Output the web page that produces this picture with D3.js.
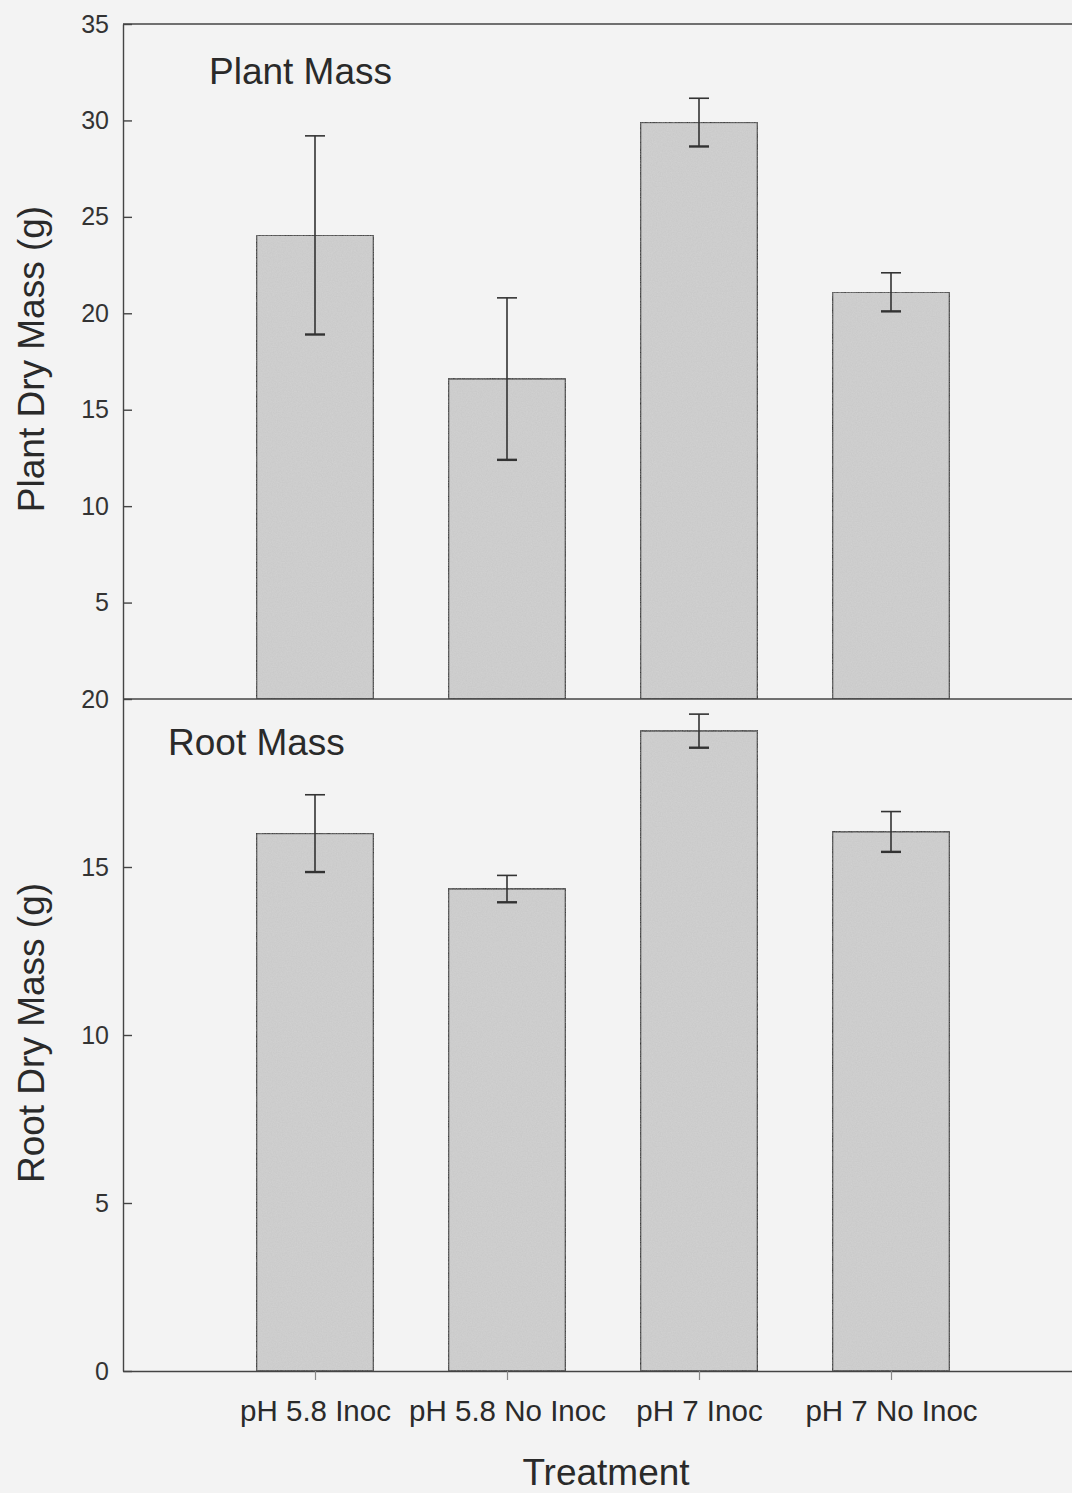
<!DOCTYPE html>
<html>
<head>
<meta charset="utf-8">
<script src="https://cdn.jsdelivr.net/npm/d3@7"></script>
<style>
  html, body { margin: 0; padding: 0; background: #f3f3f3; }
  svg { display: block; font-family: "Liberation Sans", Arial, sans-serif; }
</style>
</head>
<body>
<div id="viz"></div>
<script>
// Datos
const tratamientos = ["pH 5.8 Inoc", "pH 5.8 No Inoc", "pH 7 Inoc", "pH 7 No Inoc"];
const masaPlanta = [24.05, 16.6, 29.9, 21.1];
const errorPlanta = [5.15, 4.2, 1.25, 1.0];
const masaRaiz = [16.0, 14.35, 19.05, 16.05];
const errorRaiz = [1.15, 0.4, 0.5, 0.6];
const ticksPlanta = [5, 10, 15, 20, 25, 30, 35];
const ticksRaiz = [0, 5, 10, 15, 20];

const width = 1072, height = 1493;
const svg = d3.select('#viz').append('svg')
    .attr('width', width)
    .attr('height', height);

// textura de papel escaneado
const defs = svg.append('defs');
const ruido = defs.append('filter').attr('id', 'ruido')
    .attr('x', 0).attr('y', 0).attr('width', 1).attr('height', 1);
ruido.append('feTurbulence').attr('type', 'fractalNoise')
    .attr('baseFrequency', 0.8).attr('numOctaves', 2).attr('seed', 3).attr('result', 'n');
ruido.append('feColorMatrix').attr('in', 'n').attr('type', 'matrix')
    .attr('values', '0 0 0 0 0.5  0 0 0 0 0.5  0 0 0 0 0.5  0 0 0 0.5 -0.1').attr('result', 'g');
ruido.append('feComposite').attr('in', 'g').attr('in2', 'SourceGraphic').attr('operator', 'in').attr('result', 'gi');
ruido.append('feMerge').selectAll('feMergeNode')
    .data(['SourceGraphic', 'gi']).enter().append('feMergeNode').attr('in', d => d);

svg.append('rect').attr('width', width).attr('height', height).attr('fill', '#f3f3f3');

const izq = 123, arriba = 24, medio = 699, abajo = 1371;

const x = d3.scaleLinear().domain([0, tratamientos.length + 1]).range([izq, izq + 192 * 5]);
const anchoBarra = 117;

const yPlanta = d3.scaleLinear().domain([0, 35]).range([medio, arriba]);
const yRaiz = d3.scaleLinear().domain([0, 20]).range([abajo, medio]);

const fuente = '"Liberation Sans", Arial, sans-serif';

function panel(datos, errores, y, ticks, titulo, tituloX, tituloY, ejeY, centroY) {
    const g = svg.append('g');

    // barras
    g.selectAll('.bar')
        .data(datos)
        .enter().append('rect')
        .attr('class', 'bar')
        .attr('x', (d, i) => x(i + 1) - anchoBarra / 2)
        .attr('y', d => y(d))
        .attr('width', anchoBarra)
        .attr('height', d => y(0) - y(d))
        .attr('fill', '#d0d0d0')
        .attr('stroke', '#3a3a3a')
        .attr('stroke-width', 1.6)
        .attr('filter', 'url(#ruido)');

    // barras de error
    const eb = g.selectAll('.err')
        .data(datos.map((d, i) => ({ m: d, e: errores[i], i })))
        .enter().append('g')
        .attr('stroke', '#333')
        .attr('stroke-width', 1.6);
    eb.append('line')
        .attr('x1', d => x(d.i + 1)).attr('x2', d => x(d.i + 1))
        .attr('y1', d => y(d.m + d.e)).attr('y2', d => y(d.m - d.e));
    eb.append('line')
        .attr('x1', d => x(d.i + 1) - 10).attr('x2', d => x(d.i + 1) + 10)
        .attr('y1', d => y(d.m + d.e)).attr('y2', d => y(d.m + d.e));
    eb.append('line')
        .attr('x1', d => x(d.i + 1) - 10).attr('x2', d => x(d.i + 1) + 10)
        .attr('y1', d => y(d.m - d.e)).attr('y2', d => y(d.m - d.e))
        .attr('stroke-width', 2.4);

    // eje y con ticks hacia dentro
    const eje = g.append('g')
        .attr('transform', `translate(${izq},0)`)
        .call(d3.axisLeft(y).tickValues(ticks).tickSizeInner(-9).tickSizeOuter(0).tickPadding(14));
    eje.select('.domain').attr('stroke', '#444').attr('stroke-width', 1.4);
    eje.selectAll('.tick line').attr('stroke', '#444').attr('stroke-width', 1.4);
    eje.selectAll('.tick text')
        .attr('font-size', 25)
        .attr('fill', '#333')
        .style('font-family', fuente);

    // etiqueta del panel
    g.append('text')
        .attr('x', tituloX).attr('y', tituloY)
        .attr('font-size', 37)
        .attr('fill', '#2a2a2a')
        .style('font-family', fuente)
        .text(titulo);

    // título eje y
    g.append('text')
        .attr('transform', `translate(44,${centroY}) rotate(-90)`)
        .attr('text-anchor', 'middle')
        .attr('font-size', 37)
        .attr('fill', '#2a2a2a')
        .style('font-family', fuente)
        .text(ejeY);
}

panel(masaPlanta, errorPlanta, yPlanta, ticksPlanta, 'Plant Mass', 209, 84, 'Plant Dry Mass (g)', 359);
panel(masaRaiz, errorRaiz, yRaiz, ticksRaiz, 'Root Mass', 168, 755, 'Root Dry Mass (g)', 1033);

// líneas horizontales: borde superior y divisor
[arriba, medio].forEach(yy => {
    svg.append('line')
        .attr('x1', izq).attr('x2', width + 5)
        .attr('y1', yy).attr('y2', yy)
        .attr('stroke', '#444').attr('stroke-width', 1.5);
});

// eje x
const ejeX = svg.append('g')
    .attr('transform', `translate(0,${abajo})`)
    .call(d3.axisBottom(x)
        .tickValues(d3.range(1, tratamientos.length + 1))
        .tickFormat(d => tratamientos[d - 1])
        .tickSizeInner(9).tickSizeOuter(0).tickPadding(20));
ejeX.select('.domain').attr('stroke', '#444').attr('stroke-width', 1.5);
ejeX.selectAll('.tick line').attr('stroke', '#888').attr('stroke-width', 1.2);
ejeX.selectAll('.tick text')
    .attr('font-size', 29.5)
    .attr('fill', '#2a2a2a')
    .style('font-family', fuente);

svg.append('text')
    .attr('x', 606).attr('y', 1485)
    .attr('text-anchor', 'middle')
    .attr('font-size', 37)
    .attr('fill', '#2a2a2a')
    .style('font-family', fuente)
    .text('Treatment');
</script>
</body>
</html>
